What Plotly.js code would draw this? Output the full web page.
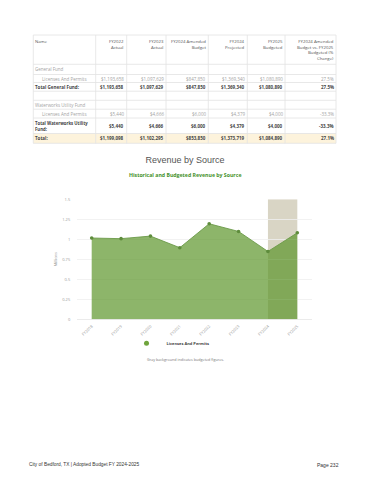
<!DOCTYPE html>
<html>
<head>
<meta charset="utf-8">
<script src="https://cdn.plot.ly/plotly-3.0.1.min.js"></script>
<style>
html,body{margin:0;padding:0;background:#fff;}
#chart{width:370px;height:480px;}
</style>
</head>
<body>
<div id="chart"></div>
<script>
// ---------------- DATA ----------------
const tableHeaders = [
  ["Name"],
  ["FY2022", "Actual"],
  ["FY2023", "Actual"],
  ["FY2024 Amended", "Budget"],
  ["FY2024", "Projected"],
  ["FY2025", "Budgeted"],
  ["FY2024 Amended", "Budget vs. FY2025", "Budgeted (%", "Change)"]
];
const rowNames = ["General Fund", "Licenses And Permits", "Total General Fund:", "", "Waterworks Utility Fund", "Licenses And Permits", "Total Waterworks Utility<br>Fund:", "Total:"];
const rowKinds = ["group", "detail", "total", "blank", "group", "detail", "total", "grand"];
const fy2022Actual   = ["", "$1,193,658", "$1,193,658", "", "", "$5,440", "$5,440", "$1,199,098"];
const fy2023Actual   = ["", "$1,097,629", "$1,097,629", "", "", "$4,666", "$4,666", "$1,102,295"];
const fy2024Amended  = ["", "$847,850", "$847,850", "", "", "$6,000", "$6,000", "$853,850"];
const fy2024Projected= ["", "$1,369,340", "$1,369,340", "", "", "$4,379", "$4,379", "$1,373,719"];
const fy2025Budgeted = ["", "$1,080,890", "$1,080,890", "", "", "$4,000", "$4,000", "$1,084,890"];
const pctChange      = ["", "27.5%", "27.5%", "", "", "-33.3%", "-33.3%", "27.1%"];

const years = ["FY2018", "FY2019", "FY2020", "FY2021", "FY2022", "FY2023", "FY2024", "FY2025"];
const revenueMillions = [1.016, 1.008, 1.040, 0.895, 1.194, 1.098, 0.848, 1.081];
const budgetedYears = ["FY2024", "FY2025"];
const seriesName = "Licenses And Permits";

// ---------------- LAYOUT HELPERS ----------------
const W = 370, H = 480;
const X = p => p / W;
const Y = p => 1 - p / H;
const colEdges = [33.3, 95.7, 126.7, 166, 208.3, 247.3, 285, 336];
const rowEdges = [35, 64.3, 74.5, 82.5, 91.2, 100.3, 109.2, 118, 133.5, 143.3];
const lineCol = "#e2e2e2";
const tFont = "Open Sans, sans-serif";

const shapes = [];
const annotations = [];

function txt(text, x, y, xanchor, font, yanchor, align) {
  annotations.push({
    text: text, x: X(x), y: Y(y), xref: "paper", yref: "paper",
    xanchor: xanchor, yanchor: yanchor || "middle", align: align || xanchor,
    showarrow: false, borderpad: 0, borderwidth: 0, font: font
  });
}

// grand total fill
const gi = rowKinds.indexOf("grand");
shapes.push({type: "rect", xref: "paper", yref: "paper", layer: "below",
  x0: X(colEdges[0]), x1: X(colEdges[colEdges.length - 1]),
  y0: Y(rowEdges[gi + 2]), y1: Y(rowEdges[gi + 1]),
  fillcolor: "#fdf3dc", line: {width: 0}});

// grid lines
rowEdges.forEach(r => shapes.push({type: "line", xref: "paper", yref: "paper",
  x0: X(colEdges[0]), x1: X(colEdges[colEdges.length - 1]), y0: Y(r), y1: Y(r),
  line: {color: lineCol, width: 0.8}}));
colEdges.forEach(c => shapes.push({type: "line", xref: "paper", yref: "paper",
  x0: X(c), x1: X(c), y0: Y(rowEdges[0]), y1: Y(rowEdges[rowEdges.length - 1]),
  line: {color: lineCol, width: 0.8}}));

// header text (one multi-line label per cell)
const hFont = {family: tFont, size: 4.3, color: "#555"};
tableHeaders.forEach((lines, c) => {
  const label = lines.join("<br>");
  if (c === 0) txt(label, colEdges[0] + 1.6, 38.2, "left", hFont, "top");
  else txt(label, colEdges[c + 1] - 2.4, 38.2, "right", hFont, "top");
});

// body
const valueCols = [fy2022Actual, fy2023Actual, fy2024Amended, fy2024Projected, fy2025Budgeted, pctChange];
rowNames.forEach((name, r) => {
  const kind = rowKinds[r];
  const yc = (rowEdges[r + 1] + rowEdges[r + 2]) / 2;
  const bold = (kind === "total" || kind === "grand");
  const font = {family: tFont, size: 4.5, color: bold ? "#444" : "#a3a3a3"};
  const wrap = s => bold ? "<b>" + s + "</b>" : s;
  const xName = kind === "detail" ? 42.3 : colEdges[0] + 1.6;
  if (name !== "") {
    const nFont = name.indexOf("<br>") >= 0 ? Object.assign({}, font, {size: 4.3}) : font;
    txt(wrap(name.split("<br>").join("</b><br><b>")).replace("<b></b>", ""), xName, yc, "left", nFont);
  }
  valueCols.forEach((col, c) => {
    if (col[r] === "") return;
    txt(wrap(col[r]), colEdges[c + 2] - 2.4, yc, "right", font);
  });
});

// titles
txt("Historical and Budgeted Revenue by Source", 185, 174.7, "center",
  {family: tFont, size: 5.2, color: "#45912b", weight: "bold"});
txt("Gray background indicates budgeted figures.", 185, 359, "center",
  {family: tFont, size: 3.7, color: "#777"});
txt("City of Bedford, TX | Adopted Budget FY 2024-2025", 29.3, 464.7, "left",
  {family: "Liberation Sans, Arial, sans-serif", size: 4.8, color: "#333"});
txt("Page 232", 339, 464.7, "right",
  {family: "Liberation Sans, Arial, sans-serif", size: 5, color: "#333"});

// budgeted gray band
const yMax = 1.5;
shapes.push({type: "rect", xref: "x", yref: "y", layer: "below",
  x0: years.indexOf(budgetedYears[0]), x1: years.indexOf(budgetedYears[budgetedYears.length - 1]),
  y0: 0, y1: yMax, fillcolor: "#d9d5c5", line: {width: 0}});

// ---------------- TRACES ----------------
const area = {
  type: "scatter", mode: "lines+markers", x: years, y: revenueMillions,
  fill: "tozeroy", fillcolor: "rgba(90,148,39,0.69)",
  line: {color: "#6b9a48", width: 0.9},
  marker: {color: "#5e8c3c", size: 3.6},
  showlegend: false, hoverinfo: "skip"
};
const legendTrace = {
  type: "scatter", mode: "markers", x: [null], y: [null], name: seriesName,
  marker: {color: "#6fa43c", size: 5}, showlegend: true
};

const layout = {
  width: W, height: H,
  margin: {l: 0, r: 0, t: 0, b: 0},
  paper_bgcolor: "#fff", plot_bgcolor: "rgba(0,0,0,0)",
  title: {text: "Revenue by Source", x: 0.5, xanchor: "center", xref: "paper",
    y: Y(160), yref: "container", yanchor: "middle",
    font: {family: "Liberation Sans, Arial, sans-serif", size: 9, color: "#555"}},
  xaxis: {
    type: "category", domain: [X(77), X(312)], range: [-0.5, years.length - 0.5],
    showgrid: false, zeroline: false, showline: false,
    tickangle: -45, tickfont: {family: tFont, size: 4, color: "#999"},
    ticks: "outside", ticklen: 2, tickcolor: "rgba(0,0,0,0)"
  },
  yaxis: {
    domain: [Y(319.3), Y(199.3)], range: [0, yMax], dtick: 0.25,
    showgrid: true, gridcolor: "#efefef", gridwidth: 0.8,
    zeroline: true, zerolinecolor: "#e6e6e6", zerolinewidth: 0.8, showline: false,
    tickfont: {family: tFont, size: 4, color: "#999"},
    ticks: "outside", ticklen: 5, tickcolor: "rgba(0,0,0,0)",
    title: {text: "Millions", font: {family: tFont, size: 4, color: "#999"}, standoff: 4}
  },
  showlegend: true,
  legend: {orientation: "h", x: X(126.5), xanchor: "left", y: Y(343.3), yanchor: "middle",
    font: {family: tFont, size: 4, color: "#444", weight: "bold"}, bgcolor: "rgba(0,0,0,0)"},
  shapes: shapes,
  annotations: annotations
};

Plotly.newPlot("chart", [area, legendTrace], layout, {staticPlot: true, displayModeBar: false});
</script>
</body>
</html>
